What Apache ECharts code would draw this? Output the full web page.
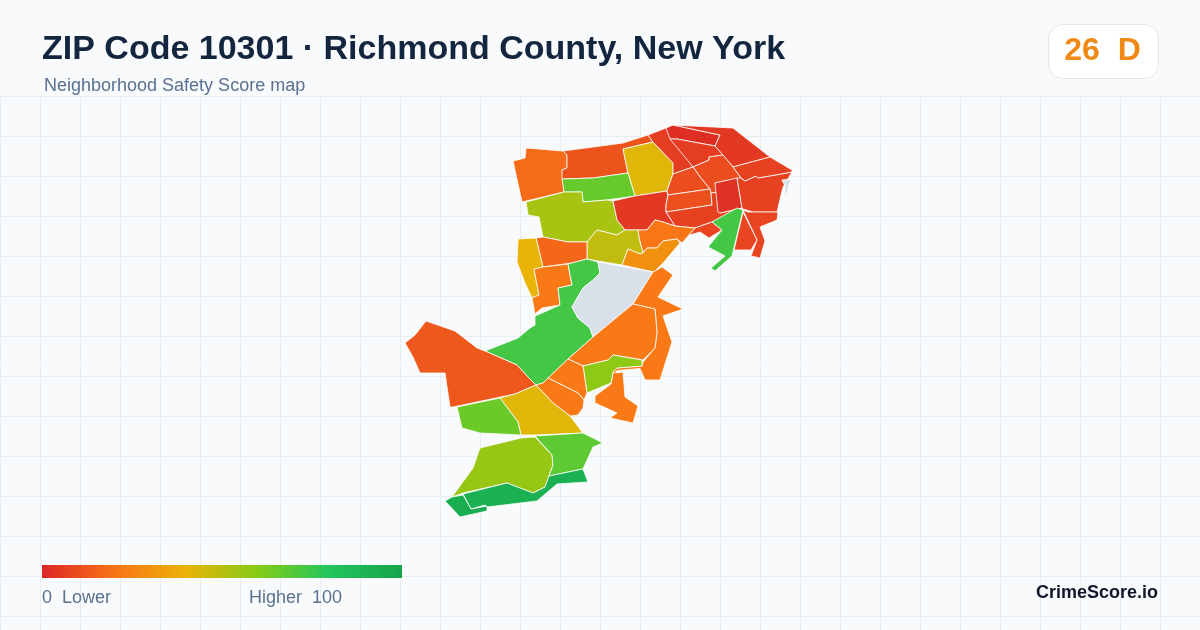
<!DOCTYPE html>
<html><head><meta charset="utf-8">
<script src="https://cdn.jsdelivr.net/npm/echarts@6/dist/echarts.min.js"></script>
<style>html,body{margin:0;padding:0;background:#f8fafc}#c{width:1200px;height:630px}</style>
</head><body><div id="c"></div>
<script>
// Tract scores (null = no data)
const regionNames = ['T01','T02','T03','T04','T05','T06','T07','T08','T09','T10','T11','T12','T13','T14','T15','T16','T17','T18','T19','T20','T21','T22','T23','T24','T25','T26','T27','T28','T29','T30','T31','T32','T33','T34','T35','T36','T37','T38','T39','T40','T41'];
const regionValues = [18,12,42,66,53,5,6,2,5,6,10,10,11,7,3,7,7,8,8,8,21,48,29,17,40,22,73,73,null,22,22,58,22,22,13,42,65,56,68,92,94];
const gradientColors = ['#dc2626','#f97316','#eab308','#84cc16','#22c55e','#16a34a'];
// Map geometry of each tract, in map units (x, y downward)
const regionRings = [
 [[513,161],[525,158],[526,148],[563,151],[567,155],[567,168],[562,170],[564,192],[522,202]],
 [[563,151],[593,147],[623,143],[648,135],[653,142],[623,149],[628,173],[593,178],[562,179],[562,170],[567,168],[567,155]],
 [[623,149],[653,142],[673,163],[673,174],[667,191],[635,196],[628,173]],
 [[562,179],[593,178],[628,173],[635,196],[607,200],[583,202],[582,192],[564,192]],
 [[526,202],[564,192],[582,192],[583,202],[607,200],[613,201],[617,220],[625,230],[617,235],[597,230],[587,242],[568,242],[543,237],[539,217],[528,215]],
 [[613,201],[635,196],[667,191],[668,195],[666,205],[666,212],[670,218],[675,226],[663,222],[655,220],[647,230],[625,230],[617,220]],
 [[648,135],[666,128],[693,167],[673,174],[673,163],[653,142]],
 [[666,128],[673,125],[720,135],[715,146],[677,139],[670,139]],
 [[673,125],[733,128],[770,157],[733,167],[715,146],[720,135]],
 [[670,139],[677,139],[715,146],[723,155],[709,157],[709,160],[693,167]],
 [[693,167],[709,160],[709,157],[723,155],[733,167],[741,178],[715,183],[718,192],[711,193],[710,189],[700,177]],
 [[673,174],[693,167],[700,177],[710,189],[668,195],[667,191]],
 [[668,195],[710,189],[711,193],[712,205],[666,212],[666,205]],
 [[711,193],[718,192],[720,213],[738,209],[712,222],[695,228],[675,226],[670,218],[666,212],[712,205]],
 [[715,183],[737,178],[742,208],[720,213],[718,212]],
 [[737,178],[741,178],[745,181],[756,176],[758,178],[792,172],[783,187],[781,195],[777,212],[753,212],[743,209],[742,208]],
 [[733,167],[770,157],[792,170],[792,172],[758,178],[756,176],[745,181],[741,178]],
 [[743,210],[748,212],[778,212],[777,220],[760,227],[765,241],[760,258],[751,256],[757,240]],
 [[743,212],[757,240],[751,250],[734,250]],
 [[695,228],[712,222],[722,230],[709,238],[700,232],[690,235],[682,243]],
 [[647,230],[655,220],[663,222],[675,226],[695,228],[682,243],[677,239],[663,241],[657,248],[647,248],[643,253],[639,238],[638,230]],
 [[587,242],[597,230],[617,235],[625,230],[638,230],[639,238],[643,253],[640,254],[628,249],[622,265],[598,261],[587,259]],
 [[628,249],[640,254],[643,253],[647,248],[657,248],[663,241],[677,239],[680,243],[663,263],[654,272],[622,265]],
 [[536,238],[543,237],[568,242],[587,242],[587,259],[572,263],[543,267]],
 [[518,239],[536,238],[543,267],[534,269],[539,295],[532,298],[525,283],[517,262]],
 [[534,269],[543,267],[568,264],[572,285],[558,288],[560,305],[542,308],[535,314],[532,298],[539,295]],
 [[485,351],[518,338],[530,328],[535,325],[535,316],[542,313],[560,305],[558,288],[572,285],[568,264],[587,259],[598,262],[600,273],[593,280],[583,288],[572,307],[578,318],[590,328],[593,337],[568,359],[543,383],[536,385],[528,377],[517,365]],
 [[743,210],[737,208],[712,222],[722,230],[708,247],[725,256],[711,268],[715,271],[732,256]],
 [[598,262],[653,272],[633,304],[593,337],[590,328],[578,318],[572,307],[583,288],[593,280],[600,273]],
 [[653,272],[662,267],[673,275],[658,297],[683,309],[663,316],[672,342],[660,380],[645,380],[640,368.5],[617,370.5],[615,373],[623,372],[625,397],[638,406],[633,423],[610,418],[617,413],[595,403],[595,396],[611,384],[613,373],[616,368],[642,366],[643,362],[655,348],[657,332],[655,309],[633,304]],
 [[633,304],[655,309],[657,332],[655,348],[643,360],[613,355],[608,360],[583,366],[568,359],[593,337]],
 [[583,366],[608,360],[613,355],[642,360],[642,366],[617,368],[613,372],[611,383],[587,393]],
 [[548,378],[568,359],[583,366],[587,393],[584,400],[578,393]],
 [[536,385],[543,383],[548,378],[578,393],[584,400],[583,408],[578,415],[570,416],[553,403]],
 [[426,321],[455,331],[477,348],[485,351],[517,365],[528,377],[536,385],[515,394],[453,407],[450,407],[445,373],[420,373],[413,357],[405,343],[415,335]],
 [[500,398],[515,394],[536,385],[553,403],[570,416],[583,433],[535,435],[521,435],[518,422]],
 [[457,407],[500,398],[518,422],[521,435],[480,433],[462,428]],
 [[480,448],[521,438],[535,437],[552,455],[553,465],[545,487],[533,493],[507,483],[463,493],[452,497],[473,468]],
 [[535,436],[583,433],[603,443],[593,447],[583,469],[549,476],[553,465],[552,455]],
 [[463,494],[507,483],[533,493],[545,487],[549,476],[583,469],[588,482],[557,484],[537,501],[487,507],[485,505],[471,509]],
 [[445,501],[452,497],[463,495],[471,509],[487,506],[487,511],[460,517]]
];
const extraNoData = [[[782,180],[791,179],[788,190],[784,198],[785,186]]];
const titleText = 'ZIP Code 10301 · Richmond County, New York';
const subtitleText = 'Neighborhood Safety Score map';
const scoreText = '26  D';
const legendLow = '0  Lower';
const legendHigh = 'Higher  100';
const brandText = 'CrimeScore.io';

const features = regionRings.map((ring, i) => ({
  type: 'Feature', properties: {name: regionNames[i]},
  geometry: {type: 'Polygon', coordinates: [ring.map(p => [p[0], -p[1]])]}
}));
extraNoData.forEach((ring, i) => features.push({
  type: 'Feature', properties: {name: 'ND' + i},
  geometry: {type: 'Polygon', coordinates: [ring.map(p => [p[0], -p[1]])]}
}));
echarts.registerMap('zip10301', {type: 'FeatureCollection', features});

const FONT = '"Liberation Sans", Arial, sans-serif';
const chart = echarts.init(document.getElementById('c'), null, {renderer: 'canvas'});
chart.setOption({
  animation: false,
  backgroundColor: '#f8fafc',
  grid: {left: 0.5, right: 0, top: 96.5, bottom: 0},
  xAxis: {type: 'value', min: 0, max: 1200, interval: 40, axisLine: {show: false}, axisTick: {show: false}, axisLabel: {show: false},
    splitLine: {show: true, lineStyle: {color: '#e7eef3', width: 1}}},
  yAxis: {type: 'value', inverse: true, min: 0, max: 533.5, interval: 40, axisLine: {show: false}, axisTick: {show: false}, axisLabel: {show: false},
    splitLine: {show: true, lineStyle: {color: '#e7eef3', width: 1}}},
  title: [
    {text: titleText, left: 42, top: 33, padding: 0, textStyle: {fontFamily: FONT, fontSize: 34, fontWeight: 'bold', color: '#14263f'}},
    {text: subtitleText, left: 44, top: 77, padding: 0, textStyle: {fontFamily: FONT, fontSize: 18, fontWeight: 'normal', color: '#5a7190'}}
  ],
  visualMap: {
    type: 'continuous', show: false, min: 0, max: 100, seriesIndex: 0,
    inRange: {color: gradientColors}
  },
  series: [{
    type: 'map', map: 'zip10301', left: 405, top: 125, width: 387, height: 392, aspectScale: 1, roam: false, silent: true, z: 5,
    label: {show: false}, emphasis: {disabled: true}, select: {disabled: true}, selectedMode: false,
    itemStyle: {areaColor: '#d8e1ea', borderColor: '#ffffff', borderWidth: 0.8},
    data: regionNames.map((name, i) => ({name, value: regionValues[i] === null ? NaN : regionValues[i]}))
  }],
  graphic: [
    {type: 'rect', shape: {x: 42, y: 565, width: 360, height: 13}, z: 10, style: {fill: new echarts.graphic.LinearGradient(0, 0, 1, 0,
      gradientColors.map((color, i) => ({offset: i / (gradientColors.length - 1), color})))}},
    {type: 'rect', shape: {x: 1048.5, y: 24.5, width: 110, height: 54, r: 14}, style: {fill: '#ffffff', stroke: '#e2e8f0', lineWidth: 1}, z: 10},
    {type: 'text', x: 1102.5, y: 51, style: {text: scoreText, font: 'bold 32px ' + FONT, fill: '#ef8a17', textAlign: 'center', textVerticalAlign: 'middle'}, z: 11},
    {type: 'text', x: 42, y: 598, style: {text: legendLow, font: '18px ' + FONT, fill: '#5a7190', textAlign: 'left', textVerticalAlign: 'middle'}, z: 11},
    {type: 'text', x: 249, y: 598, style: {text: legendHigh, font: '18px ' + FONT, fill: '#5a7190', textAlign: 'left', textVerticalAlign: 'middle'}, z: 11},
    {type: 'text', x: 1158, y: 593, style: {text: brandText, font: 'bold 18px ' + FONT, fill: '#0f172a', textAlign: 'right', textVerticalAlign: 'middle'}, z: 11}
  ]
});
</script></body></html>
